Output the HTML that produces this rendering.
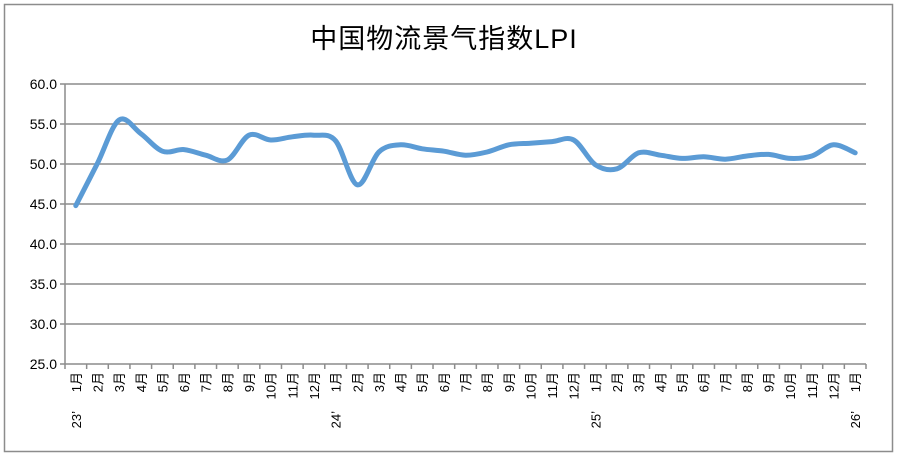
<!DOCTYPE html>
<html><head><meta charset="utf-8"><style>
body{margin:0;background:#fff;}
svg{display:block;font-family:"Liberation Sans","Noto Sans CJK SC",sans-serif;}
</style></head><body>
<svg id="s" width="897" height="458" xmlns="http://www.w3.org/2000/svg">
<rect x="4.5" y="4.5" width="888" height="447" fill="#fff" stroke="#8c8c8c" stroke-width="1.5"/>
<text x="444" y="48" font-size="27" text-anchor="middle" fill="#000" letter-spacing="1">中国物流景气指数LPI</text>
<g id="grid" stroke="#8c8c8c" stroke-width="1.5"></g>
<g id="yl" font-size="14" fill="#000" text-anchor="end"></g>
<g id="xl" font-size="13" fill="#000" text-anchor="end"></g>
<path id="line" fill="none" stroke="#5b9bd5" stroke-width="5" stroke-linecap="round" stroke-linejoin="round"/>
</svg>
<script>
var NS="http://www.w3.org/2000/svg";
function el(t,a,p,txt){var e=document.createElementNS(NS,t);for(var k in a)e.setAttribute(k,a[k]);if(txt)e.textContent=txt;document.getElementById(p).appendChild(e);return e;}
var x0=65,x1=866,yTop=84,yb=364,n=37,w=(x1-x0)/n;
for(var v=25;v<=60;v+=5){var y=yb-(v-25)*8;
 el('line',{x1:x0-5,x2:x1,y1:y,y2:y},'grid');
 el('text',{x:57,y:y+5},'yl',v.toFixed(1));}
el('line',{x1:x0,x2:x0,y1:yTop,y2:yb},'grid');
for(var i=0;i<=n;i++){var x=x0+i*w;el('line',{x1:x,x2:x,y1:yb,y2:yb+5},'grid');}
var yrs={0:"23’",12:"24’",24:"25’",36:"26’"};
for(var i=0;i<n;i++){var m=(i%12)+1;var cx=x0+(i+0.5)*w;
 el('text',{transform:'translate('+(cx+5)+',372) rotate(-90)'},'xl',m+'月');
 if(yrs[i]!==undefined) el('text',{transform:'translate('+(cx+5)+',411) rotate(-90)'},'xl',yrs[i]);}
var d=[44.8,50.1,55.5,53.8,51.6,51.8,51.1,50.5,53.6,53.0,53.4,53.6,52.9,47.4,51.5,52.4,51.9,51.6,51.1,51.5,52.4,52.6,52.8,53.0,49.9,49.4,51.4,51.1,50.7,50.9,50.6,51.0,51.2,50.7,51.0,52.4,51.4];
var p=d.map(function(v,i){return [x0+(i+0.5)*w,yb-(v-25)*8];});
var s="M"+p[0][0].toFixed(1)+","+p[0][1].toFixed(1);
for(var i=0;i<p.length-1;i++){var a=p[i>0?i-1:i],b=p[i],c=p[i+1],e=p[i+2<p.length?i+2:i+1];var t=6;
 s+=" C"+(b[0]+(c[0]-a[0])/t).toFixed(1)+","+(b[1]+(c[1]-a[1])/t).toFixed(1)+" "+(c[0]-(e[0]-b[0])/t).toFixed(1)+","+(c[1]-(e[1]-b[1])/t).toFixed(1)+" "+c[0].toFixed(1)+","+c[1].toFixed(1);}
document.getElementById('line').setAttribute('d',s);
</script>
</body></html>
